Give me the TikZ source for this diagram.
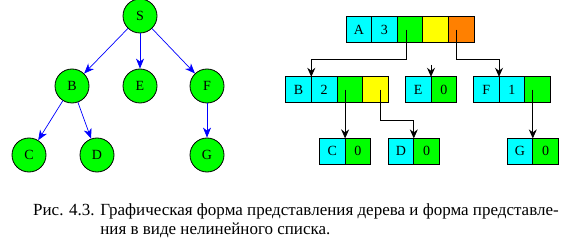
\documentclass[tikz,border=0pt]{standalone}
\usepackage{fontspec}
\setmainfont{Liberation Serif}
\usetikzlibrary{positioning,arrows.meta}
\definecolor{ink}{HTML}{000000}
\definecolor{vgreen}{HTML}{00FF00}
\definecolor{ccyan}{HTML}{00FFFF}
\definecolor{cyellow}{HTML}{FFFF00}
\definecolor{corange}{HTML}{FF8000}
\definecolor{eblue}{HTML}{0000FF}

\begin{document}
\begin{tikzpicture}[
  x=1pt, y=-1pt,
  font=\fontsize{14}{16}\selectfont,
  vert/.style  = {circle, draw=ink, line width=0.8pt, fill=vgreen,
                  minimum size=34pt, inner sep=0pt},
  edge/.style  = {-{Stealth[length=10pt,width=8pt,inset=3pt]}, draw=eblue, line width=0.7pt},
  cell/.style  = {draw=ink, line width=0.8pt, minimum width=25.6pt, minimum height=25.6pt,
                  inner sep=0pt, outer sep=0pt},
  cy/.style    = {cell, fill=ccyan},
  gr/.style    = {cell, fill=vgreen},
  ye/.style    = {cell, fill=cyellow},
  or/.style    = {cell, fill=corange},
  ptr/.style   = {-{Stealth[length=9pt,width=8pt,inset=3pt]}, draw=ink, line width=0.8pt},
  capt/.style  = {font=\fontsize{17}{18.6}\selectfont, inner sep=0pt},
]
\useasboundingbox (0,0) rectangle (561,248);

% ---------- tree ----------
\node[vert] (s) at (140,16) {S};
\node[vert] (b) at (72,86)  {B};
\node[vert] (e) at (140,86) {E};
\node[vert] (f) at (207,86) {F};
\node[vert] (c) at (29,155) {C};
\node[vert] (d) at (97,155) {D};
\node[vert] (g) at (207,155) {G};

\draw[edge] (s) -- (b);
\draw[edge] (s) -- (e);
\draw[edge] (s) -- (f);
\draw[edge] (b) -- (c);
\draw[edge] (b) -- (d);
\draw[edge] (f) -- (g);

% ---------- list: level 1 ----------
\node[cy] (la) at (358.8,29.6) {A};
\node[cy, right=0pt of la] (la3) {3};
\node[gr, right=0pt of la3] (lag) {};
\node[ye, right=0pt of lag] (lay) {};
\node[or, right=0pt of lay] (lao) {};

% ---------- list: level 2 ----------
\node[cy] (lb) at (298.5,89.6) {B};
\node[cy, right=0pt of lb] (lb2) {2};
\node[gr, right=0pt of lb2] (lbg) {};
\node[ye, right=0pt of lbg] (lby) {};

\node[cy] (le) at (418.2,89.6) {E};
\node[gr, right=0pt of le] (le0) {0};

\node[cy] (lf) at (486.2,89.6) {F};
\node[cy, right=0pt of lf] (lf1) {1};
\node[gr, right=0pt of lf1] (lfg) {};

% ---------- list: level 3 ----------
\node[cy] (lc) at (332.3,151.2) {C};
\node[gr, right=0pt of lc] (lc0) {0};

\node[cy] (ld) at (401.0,151.2) {D};
\node[gr, right=0pt of ld] (ld0) {0};

\node[cy] (lg) at (520.0,151.2) {G};
\node[gr, right=0pt of lg] (lg0) {0};

% ---------- pointers ----------
\draw[ptr] ([xshift=-4pt]lag.center) -- ++(0,29.8) -| (lb.north east);
\draw[ptr] ([xshift=-5pt]lao.center) -- ++(0,29.8) -| (lf.north east);
\coordinate (enil) at ([yshift=12pt]le.north east);
\draw[ptr] (enil) -- (le.north east);
\draw[ptr] (lc.north east |- lbg.center) -- (lc.north east);
\draw[ptr] ([xshift=4.8pt]lby.center) -- ++(0,31) -| (ld.north east);
\draw[ptr] (lg.north east |- lfg.center) -- (lg.north east);

% ---------- caption ----------
\node[capt, anchor=base west] (cap) at (33,215.7)
  {\begin{tabular}[t]{@{}l@{ }l@{}}
   Рис. 4.3. & Графическая форма представления дерева и форма представле-\\
             & ния в виде нелинейного списка.
   \end{tabular}};

\end{tikzpicture}
\end{document}
